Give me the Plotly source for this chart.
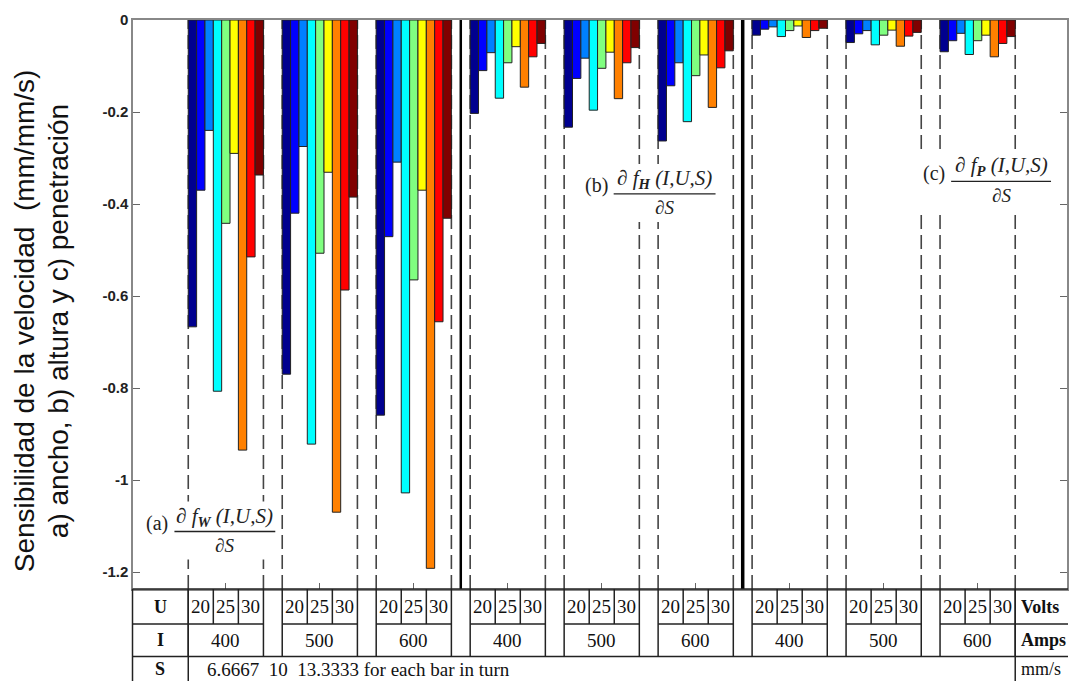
import plotly.graph_objects as go

# ---------------- data ----------------
groups = list(range(9))
currents = ["400", "500", "600", "400", "500", "600", "400", "500", "600"]
voltages = ["20", "25", "30"]
ytick_vals = [0, -0.2, -0.4, -0.6, -0.8, -1.0, -1.2]
ytick_text = ["0", "-0.2", "-0.4", "-0.6", "-0.8", "-1", "-1.2"]

# (a) width sensitivity, I = 400 / 500 / 600
a_400 = [-0.667, -0.370, -0.240, -0.807, -0.442, -0.290, -0.935, -0.515, -0.337]
a_500 = [-0.770, -0.420, -0.275, -0.922, -0.507, -0.331, -1.070, -0.587, -0.385]
a_600 = [-0.859, -0.471, -0.309, -1.028, -0.565, -0.370, -1.192, -0.656, -0.431]
# (b) height sensitivity
b_400 = [-0.203, -0.110, -0.071, -0.170, -0.093, -0.058, -0.146, -0.080, -0.051]
b_500 = [-0.233, -0.127, -0.083, -0.196, -0.105, -0.070, -0.171, -0.093, -0.060]
b_600 = [-0.263, -0.143, -0.093, -0.221, -0.121, -0.076, -0.190, -0.104, -0.067]
# (c) penetration sensitivity
c_400 = [-0.033, -0.020, -0.015, -0.036, -0.023, -0.013, -0.038, -0.023, -0.018]
c_500 = [-0.049, -0.030, -0.023, -0.054, -0.033, -0.022, -0.057, -0.035, -0.027]
c_600 = [-0.069, -0.045, -0.029, -0.075, -0.045, -0.033, -0.080, -0.051, -0.036]

group_values = [a_400, a_500, a_600, b_400, b_500, b_600, c_400, c_500, c_600]
bar_colors = ["#00008F", "#0000FF", "#0080FF", "#00FFFF", "#80FF80",
              "#FFFF00", "#FF8000", "#FF0000", "#800000"]

panel_labels = ["(a)", "(b)", "(c)"]
panel_subs = ["W", "H", "P"]
title_lines = ["Sensibilidad de la velocidad  (mm/mm/s)",
               "a) ancho, b) altura y c) penetración"]

# ---------------- layout constants ----------------
W, H = 1070, 681
L, R, T, B = 133, 1, 20, 92
PW = W - L - R
PH = H - T - B
XR = [-0.988, 8.951]
YR = [-PH / 460.0, 0]
BARGAP = 0.2
HALF = (1 - BARGAP) / 2
PXX = (XR[1] - XR[0]) / PW   # data units per pixel (x)
PXY = (YR[1] - YR[0]) / PH   # data units per pixel (y)

SANS = "Liberation Sans, Arial, sans-serif"
SERIF = "Liberation Serif, Times New Roman, serif"


def xpap(xd):
    return (xd - XR[0]) / (XR[1] - XR[0])


def pxp(px):
    return (px - L) / PW


def pyp(py):
    return (H - B - py) / PH


fig = go.Figure()
for k in range(9):
    fig.add_trace(go.Bar(
        x=groups,
        y=[group_values[g][k] for g in groups],
        marker=dict(color=bar_colors[k], line=dict(color="#222222", width=1)),
        showlegend=False,
    ))

shapes = []
# dashed lines at group edges
for g in groups:
    for xe in (g - HALF, g + HALF):
        shapes.append(dict(type="line", xref="x", yref="paper", x0=xe, x1=xe, y0=0, y1=1,
                           layer="below", line=dict(color="#444444", width=1.6, dash="14px,6px")))
# solid separators between panels
for xs, wdt in ((2.5, 2.5), (5.5, 3.5)):
    shapes.append(dict(type="line", xref="x", yref="paper", x0=xs, x1=xs, y0=0, y1=1,
                       layer="above", line=dict(color="#000000", width=wdt)))

# fractions for (a), (b), (c)
frac_lines = [(-0.547, 0.526, -1.112), (4.127, 5.211, -0.378), (7.718, 8.781, -0.351)]
annotations = []
for i, (x0, x1, yl) in enumerate(frac_lines):
    # white backing that interrupts the dashed lines behind the label
    shapes.append(dict(type="rect", xref="x", yref="y", layer="below",
                       x0=x0 - 34 * PXX, x1=x1 + 3 * PXX,
                       y0=yl - 28 * PXY, y1=yl + 30 * PXY,
                       fillcolor="white", line=dict(width=0)))
    shapes.append(dict(type="line", xref="x", yref="y", x0=x0, x1=x1, y0=yl, y1=yl,
                       line=dict(color="#222222", width=1.3)))
    xc = (x0 + x1) / 2
    annotations.append(dict(x=xc, y=yl, xref="x", yref="y", yshift=15, showarrow=False,
                            text="\u2202 <i>f</i><sub><b><i>" + panel_subs[i] + "</i></b></sub><i> (I,U,S)</i>",
                            font=dict(family=SERIF, size=21, color="#222222"),
                            xanchor="center", yanchor="middle"))
    annotations.append(dict(x=xc, y=yl, xref="x", yref="y", yshift=-14, showarrow=False,
                            text="\u2202<i>S</i>", font=dict(family=SERIF, size=19, color="#222222"),
                            xanchor="center", yanchor="middle"))
    annotations.append(dict(x=x0, y=yl, xref="x", yref="y", yshift=8, xshift=-4, showarrow=False,
                            text=panel_labels[i], font=dict(family=SERIF, size=20, color="#222222"),
                            xanchor="right", yanchor="middle"))

# ---------------- table below the axis ----------------
row_y = [H - B, 624, 656.5, 681]
row_mid = [606.5, 640, 669]
tl = dict(color="#222222", width=1.5)
left_b = pxp(132.5)
right_b = pxp(1070)
lab_col = xpap(-HALF)
unit_col = xpap(8 + HALF)


def hline(xa, xb, py):
    shapes.append(dict(type="line", xref="paper", yref="paper", x0=xa, x1=xb,
                       y0=pyp(py), y1=pyp(py), line=tl))


def vline(xa, pya, pyb):
    shapes.append(dict(type="line", xref="paper", yref="paper", x0=xa, x1=xa,
                       y0=pyp(pya), y1=pyp(pyb), line=tl))


hline(left_b, right_b, row_y[0])
hline(left_b, right_b, row_y[2])
hline(left_b, lab_col, row_y[1])
hline(unit_col, right_b, row_y[1])
vline(left_b, row_y[0], row_y[3])
vline(lab_col, row_y[0], row_y[3])
vline(unit_col, row_y[0], row_y[3])
for g in groups:
    gl, gr = g - HALF, g + HALF
    hline(xpap(gl), xpap(gr), row_y[1])
    vline(xpap(gl), row_y[0], row_y[2])
    vline(xpap(gr), row_y[0], row_y[2])
    for j in (1, 2):
        vline(xpap(gl + 2 * HALF * j / 3), row_y[0], row_y[1])
    for j, v in enumerate(voltages):
        annotations.append(dict(x=xpap(gl + 2 * HALF * (j + 0.5) / 3), y=pyp(row_mid[0]),
                                xref="paper", yref="paper", text=v, showarrow=False,
                                font=dict(family=SERIF, size=19, color="#111111"),
                                xanchor="center", yanchor="middle"))
    annotations.append(dict(x=xpap(g), y=pyp(row_mid[1]), xref="paper", yref="paper",
                            text=currents[g], showarrow=False,
                            font=dict(family=SERIF, size=19, color="#111111"),
                            xanchor="center", yanchor="middle"))

for lab, ym in zip(["U", "I", "S"], row_mid):
    annotations.append(dict(x=(left_b + lab_col) / 2, y=pyp(ym), xref="paper", yref="paper",
                            text="<b>" + lab + "</b>", showarrow=False,
                            font=dict(family=SERIF, size=18, color="#111111"),
                            xanchor="center", yanchor="middle"))
for lab, ym in zip(["<b>Volts</b>", "<b>Amps</b>", "mm/s"], row_mid):
    annotations.append(dict(x=pxp(1021), y=pyp(ym), xref="paper", yref="paper",
                            text=lab, showarrow=False,
                            font=dict(family=SERIF, size=18, color="#111111"),
                            xanchor="left", yanchor="middle"))
annotations.append(dict(x=pxp(205), y=pyp(row_mid[2]), xref="paper", yref="paper",
                        text="6.6667&nbsp; 10&nbsp; 13.3333 for each bar in turn", showarrow=False,
                        font=dict(family=SERIF, size=19, color="#111111"),
                        xanchor="left", yanchor="middle"))

# y-axis title (two lines, rotated)
for txt, px in zip(title_lines, (24, 58)):
    annotations.append(dict(x=pxp(px), y=pyp(321), xref="paper", yref="paper",
                            text=txt, textangle=-90, showarrow=False,
                            font=dict(family=SANS, size=28, color="#111111"),
                            xanchor="center", yanchor="middle"))

fig.update_layout(
    width=W, height=H,
    margin=dict(l=L, r=R, t=T, b=B, pad=0),
    paper_bgcolor="white", plot_bgcolor="white",
    barmode="group", bargap=BARGAP, bargroupgap=0,
    shapes=shapes, annotations=annotations,
    xaxis=dict(range=XR, tickvals=groups, showticklabels=False, ticks="inside", ticklen=6,
               tickcolor="#666666", showline=True, linecolor="#888888", linewidth=1.5,
               mirror=True, showgrid=False, zeroline=False),
    yaxis=dict(range=YR, tickvals=ytick_vals, ticktext=["<b>" + t + "</b>" for t in ytick_text],
               ticks="inside", ticklen=7, tickcolor="#666666", showline=True,
               linecolor="#888888", linewidth=1.5, mirror="ticks", showgrid=False,
               zeroline=False, tickfont=dict(family=SANS, size=15, color="#222222")),
)

fig.write_html("out.html")
